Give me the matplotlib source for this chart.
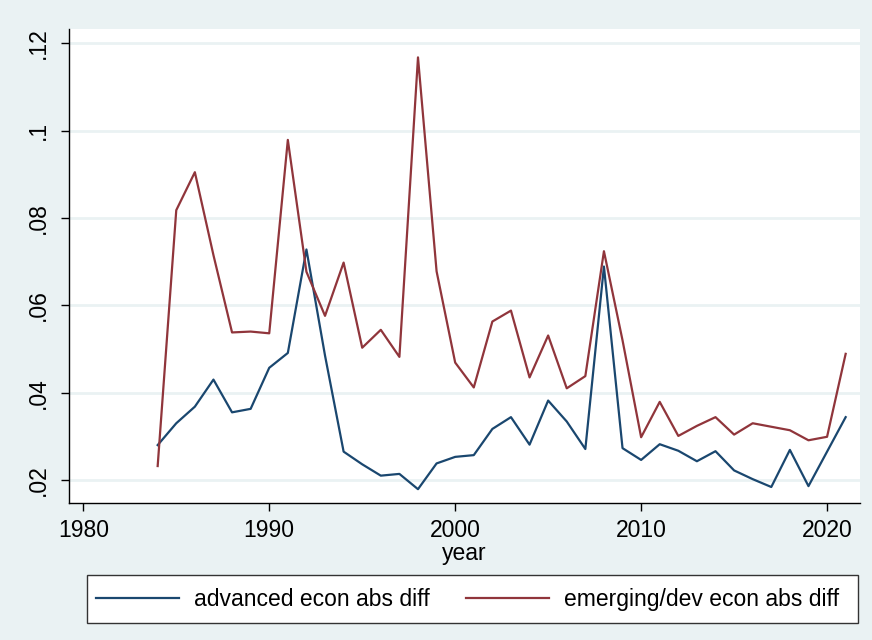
import matplotlib
matplotlib.use("Agg")
import matplotlib.pyplot as plt
from matplotlib.patches import Rectangle

plt.rcParams['font.family'] = ['Liberation Sans', 'DejaVu Sans']

years = list(range(1984, 2022))

advanced = [0.0280, 0.0330, 0.0368, 0.0430, 0.0355, 0.0363, 0.0457, 0.0491,
            0.0728, 0.0485, 0.0265, 0.0236, 0.0210, 0.0214, 0.0179, 0.0238,
            0.0253, 0.0257, 0.0317, 0.0344, 0.0281, 0.0382, 0.0334, 0.0271,
            0.0689, 0.0273, 0.0246, 0.0282, 0.0267, 0.0243, 0.0266, 0.0222,
            0.0202, 0.0184, 0.0269, 0.0186, 0.0265, 0.0344]

emerging = [0.0232, 0.0818, 0.0905, 0.0715, 0.0538, 0.0540, 0.0536, 0.0979,
            0.0677, 0.0576, 0.0698, 0.0503, 0.0544, 0.0482, 0.1168, 0.0678,
            0.0469, 0.0412, 0.0563, 0.0588, 0.0435, 0.0531, 0.0410, 0.0438,
            0.0724, 0.0520, 0.0298, 0.0379, 0.0301, 0.0324, 0.0344, 0.0304,
            0.0330, 0.0322, 0.0314, 0.0291, 0.0299, 0.0489]

x_ticks = [1980, 1990, 2000, 2010, 2020]
y_ticks = [0.02, 0.04, 0.06, 0.08, 0.10, 0.12]
y_labels = ['.02', '.04', '.06', '.08', '.1', '.12']

bg = '#EAF2F3'
navy = '#1A476F'
maroon = '#90353B'
fs = 16.5

fig = plt.figure(figsize=(8.72, 6.4), dpi=100, facecolor=bg)
ax = fig.add_axes([0.0791, 0.2145, 0.9069, 0.7402])
ax.set_facecolor('white')

ax.plot(years, advanced, color=navy, lw=1.6, label='advanced econ abs diff')
ax.plot(years, emerging, color=maroon, lw=1.6, label='emerging/dev econ abs diff')

ax.set_xlim(1979.23, 2021.76)
ax.set_ylim(0.0148, 0.1233)
ax.set_xticks(x_ticks)
ax.set_yticks(y_ticks)
ax.set_yticklabels(y_labels, rotation=90, va='center')
ax.tick_params(axis='both', labelsize=fs, length=6, width=1, color='black')
ax.tick_params(axis='x', pad=6)
ax.tick_params(axis='y', pad=8)
ax.yaxis.grid(True, color=bg, lw=2)
ax.set_axisbelow(True)

for s in ['top', 'right']:
    ax.spines[s].set_visible(False)
for s in ['left', 'bottom']:
    ax.spines[s].set_color('black')
    ax.spines[s].set_linewidth(1)

ax.set_xlabel('year', fontsize=fs, labelpad=0)

# legend box
fig.patches.append(Rectangle((0.0998, 0.0266), 0.884, 0.075, transform=fig.transFigure,
                             facecolor='white', edgecolor='#333333', lw=1, zorder=0))
leg = fig.legend(loc='center left', bbox_to_anchor=(0.1105, 0.0638),
                 ncol=2, fontsize=fs, handlelength=3.6, handletextpad=0.65,
                 columnspacing=1.6, frameon=False, borderaxespad=0, borderpad=0)

fig.savefig('out.png', dpi=100, facecolor=bg)
